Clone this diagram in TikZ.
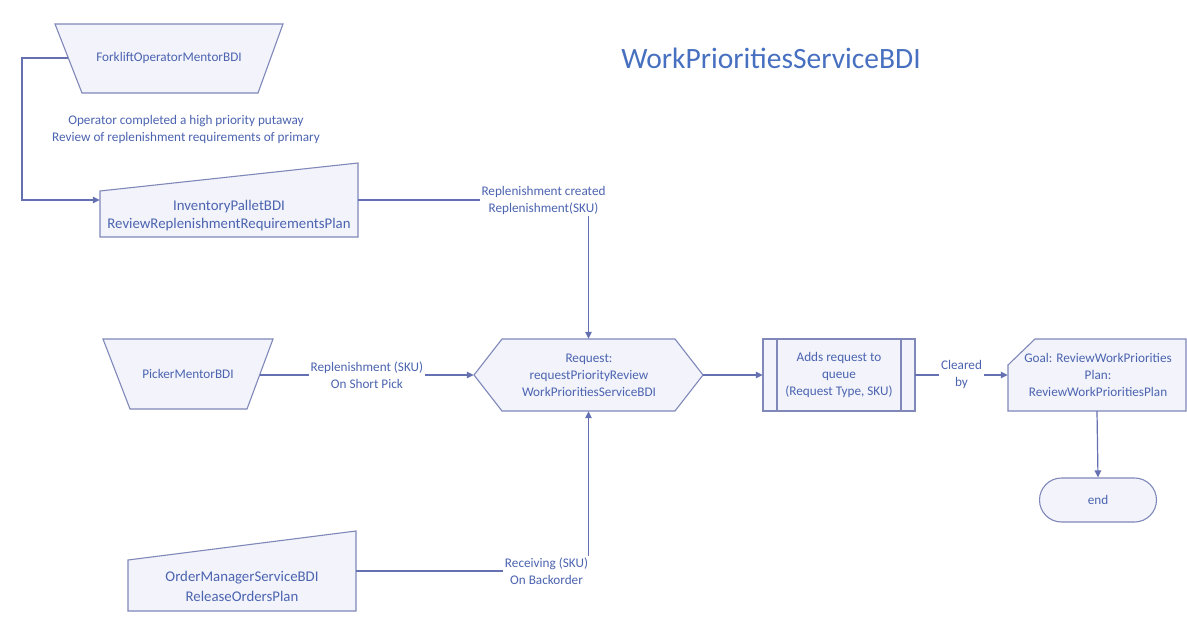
\documentclass[tikz,border=0pt]{standalone}
\usepackage{fontspec}
\setmainfont{Carlito}
\usetikzlibrary{arrows.meta,calc}
\definecolor{ln}{RGB}{100,112,178}
\definecolor{ol}{RGB}{128,136,186}
\definecolor{tx}{RGB}{76,100,176}
\definecolor{ttl}{RGB}{72,112,192}
\definecolor{fl}{RGB}{242,243,251}
\tikzset{
  box/.style={draw=none,inner sep=0pt},
  outline/.style={draw=ol,line width=1.1pt,fill=fl},
  conn/.style={draw=ln,line width=1.2pt,-{Triangle[length=7pt,width=6.5pt]}},
  small/.style={text=tx,font=\fontsize{13.2}{17}\selectfont,align=center,inner sep=1pt},
  big/.style={text=tx,font=\fontsize{14.8}{18}\selectfont,align=center,inner sep=1pt},
  lbl/.style={small,fill=white,inner sep=2pt}
}
\begin{document}
\begin{tikzpicture}[x=1pt,y=-1pt]
\useasboundingbox[fill=white] (0,0) rectangle (1187,637);
% title
\node[text=ttl,font=\fontsize{29.5}{34}\selectfont] (title) at (771,58) {WorkPrioritiesServiceBDI};

% Forklift (manual operation)
\draw[outline] (55,24)--(283,24)--(258,93)--(82,93)--cycle;
\node[small] (fork) at (169,58) {ForkliftOperatorMentorBDI};
\coordinate (fL) at (68,58);
\node[small] (forknote) at (186,129) {Operator completed a high priority putaway\\Review of replenishment requirements of primary};

% Inventory (manual input)
\draw[outline] (100,191)--(358,163)--(358,237)--(100,237)--cycle;
\node[box,minimum width=258pt,minimum height=74pt] (inv) at (229,200) {};
\node[big] (invtxt) at (229,216) {InventoryPalletBDI\\ReviewReplenishmentRequirementsPlan};

% Picker (manual operation)
\draw[outline] (103,339)--(273,339)--(247,409)--(130,409)--cycle;
\node[small] (pick) at (188,374) {PickerMentorBDI};
\coordinate (pR) at (260,375);

% OrderManager (manual input)
\draw[outline] (128,560)--(356,531)--(356,611)--(128,611)--cycle;
\node[box,minimum width=228pt,minimum height=80pt] (om) at (242,571) {};
\node[big,font=\fontsize{14.8}{20}\selectfont] (omtxt) at (242,586) {OrderManagerServiceBDI\\ReleaseOrdersPlan};

% Hexagon
\draw[outline] (474,375)--(502,339)--(675,339)--(703,375)--(675,411)--(502,411)--cycle;
\node[box,minimum width=229pt,minimum height=72pt] (hex) at (588.5,375) {};
\node[small] (hextxt) at (589,375) {Request:\\requestPriorityReview\\WorkPrioritiesServiceBDI};

% Queue (subroutine)
\draw[outline] (763,339) rectangle (915,411);
\draw[draw=ol,line width=1.1pt] (777,339)--(777,411) (901,339)--(901,411);
\node[box,minimum width=152pt,minimum height=72pt] (q) at (839,375) {};
\node[small] (qtxt) at (839,375) {Adds request to\\queue\\(Request Type, SKU)};

% Goal (card)
\draw[outline] (1008,365)--(1035,339)--(1186,339)--(1186,411)--(1008,411)--cycle;
\node[box,minimum width=178pt,minimum height=72pt] (goal) at (1097,375) {};
\node[small] (goaltxt) at (1098,375) {Goal: ReviewWorkPriorities\\Plan:\\ReviewWorkPrioritiesPlan};

% end terminator
\node[draw=ol,line width=1.1pt,fill=fl,rounded corners=22pt,minimum width=117pt,minimum height=44pt,small] (end) at (1098,500) {end};

% connectors
\draw[conn] (fL) -- ++(-46,0) |- (inv.west);
\draw[conn] (inv.east) -| (hex.north) node[lbl,pos=0.5,xshift=-45pt] (l1) {Replenishment created\\Replenishment(SKU)};
\draw[conn] (pR) -- (hex.west) node[lbl,pos=0.5] (l2) {Replenishment (SKU)\\On Short Pick};
\draw[conn] (om.east) -| (hex.south) node[lbl,pos=0.5,xshift=-42pt] (l3) {Receiving (SKU)\\On Backorder};
\draw[conn] (hex.east) -- (q.west);
\draw[conn] (q.east) -- (goal.west) node[lbl,pos=0.5,yshift=1pt] (l4) {Cleared\\by};
\draw[conn] (goal.south) -- (end.north);
\end{tikzpicture}
\end{document}
